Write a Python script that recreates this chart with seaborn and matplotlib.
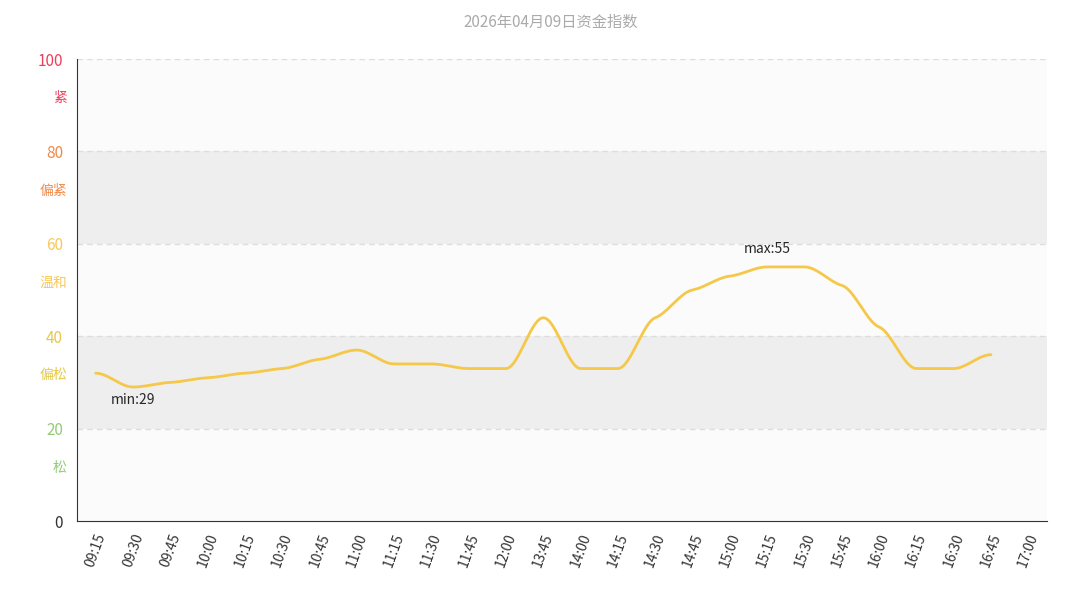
import matplotlib
matplotlib.use("Agg")
import matplotlib.pyplot as plt
import numpy as np
import seaborn as sns

# Data
times = ["09:15", "09:30", "09:45", "10:00", "10:15", "10:30", "10:45", "11:00",
         "11:15", "11:30", "11:45", "12:00", "13:45", "14:00", "14:15", "14:30",
         "14:45", "15:00", "15:15", "15:30", "15:45", "16:00", "16:15", "16:30",
         "16:45", "17:00"]
values = [32, 29, 30, 31, 32, 33, 35, 37, 34, 34, 33, 33, 44, 33, 33, 44,
          50, 53, 55, 55, 51, 42, 33, 33, 36]
levels = ["松", "偏松", "温和", "偏紧", "紧"]
level_colors = ["#91cc75", "#e6c84a", "#fac858", "#f08a4b", "#ee3f5b"]

sns.set_style("white")
plt.rcParams["font.family"] = ["Noto Sans CJK SC", "DejaVu Sans"]

fig = plt.figure(figsize=(10.8, 5.93), dpi=100)
ax = fig.add_axes([0.0713, 0.1214, 0.8981, 0.7791])

n = len(times)
ax.set_xlim(0, n)
ax.set_ylim(0, 100)

# horizontal bands
for i in range(5):
    ax.axhspan(i * 20, (i + 1) * 20, color="#eeeeee" if i % 2 == 1 else "#fbfbfb", lw=0, zorder=0)
    ax.axhline((i + 1) * 20, color="#dddddd", ls=(0, (4, 3)), lw=1, zorder=1)

# smoothed line (flattened Hermite through the points)
x = np.arange(len(values)) + 0.5
y = np.array(values, dtype=float)
xs, ys = [], []
px = np.concatenate([[x[0]], x, [x[-1]]])
py = np.concatenate([[y[0]], y, [y[-1]]])
t = np.linspace(0, 1, 20)
for i in range(1, len(px) - 2):
    m1 = (py[i + 1] - py[i - 1]) / 2 * 0.35
    m2 = (py[i + 2] - py[i]) / 2 * 0.35
    # flat at local extrema
    if (py[i] - py[i - 1]) * (py[i + 1] - py[i]) <= 0:
        m1 = 0
    if (py[i + 1] - py[i]) * (py[i + 2] - py[i + 1]) <= 0:
        m2 = 0
    h00 = 2 * t**3 - 3 * t**2 + 1
    h10 = t**3 - 2 * t**2 + t
    h01 = -2 * t**3 + 3 * t**2
    h11 = t**3 - t**2
    xs.extend(px[i] + (px[i + 1] - px[i]) * t)
    ys.extend(h00 * py[i] + h10 * m1 + h01 * py[i + 1] + h11 * m2)
sns.lineplot(x=xs, y=ys, ax=ax, color="#f5c84a", lw=2, sort=False, zorder=3)

imax = int(np.argmax(values))
imin = int(np.argmin(values))
ax.text(x[imax], values[imax] + 2.3, f"max:{values[imax]}", ha="center", va="bottom", fontsize=10)
ax.text(x[imin], values[imin] - 1.3, f"min:{values[imin]}", ha="center", va="top", fontsize=10)

# axes styling
ax.set_xticks(np.arange(n) + 0.5)
ax.set_xticklabels(times, rotation=70, fontsize=10, color="#333333")
ax.set_yticks([0, 20, 40, 60, 80, 100])
ax.set_yticklabels(["0", "20", "40", "60", "80", "100"], fontsize=11)
for lbl, c in zip(ax.get_yticklabels(), ["#333333"] + level_colors):
    lbl.set_color(c)
for i, (name, c) in enumerate(zip(levels, level_colors)):
    ax.text(-0.27, i * 20 + 11.5, name, color=c, ha="right", va="center", fontsize=10,
            transform=ax.transData, clip_on=False)
ax.tick_params(axis="y", length=0, pad=10)
ax.tick_params(axis="x", length=4, color="#333333")
for s in ["top", "right"]:
    ax.spines[s].set_visible(False)
ax.spines["left"].set_color("#333333")
ax.spines["bottom"].set_color("#333333")

fig.text(0.51, 0.962, "2026年04月09日资金指数", ha="center", va="center", fontsize=11, color="#aaaaaa")

fig.savefig("out.png", dpi=100)
